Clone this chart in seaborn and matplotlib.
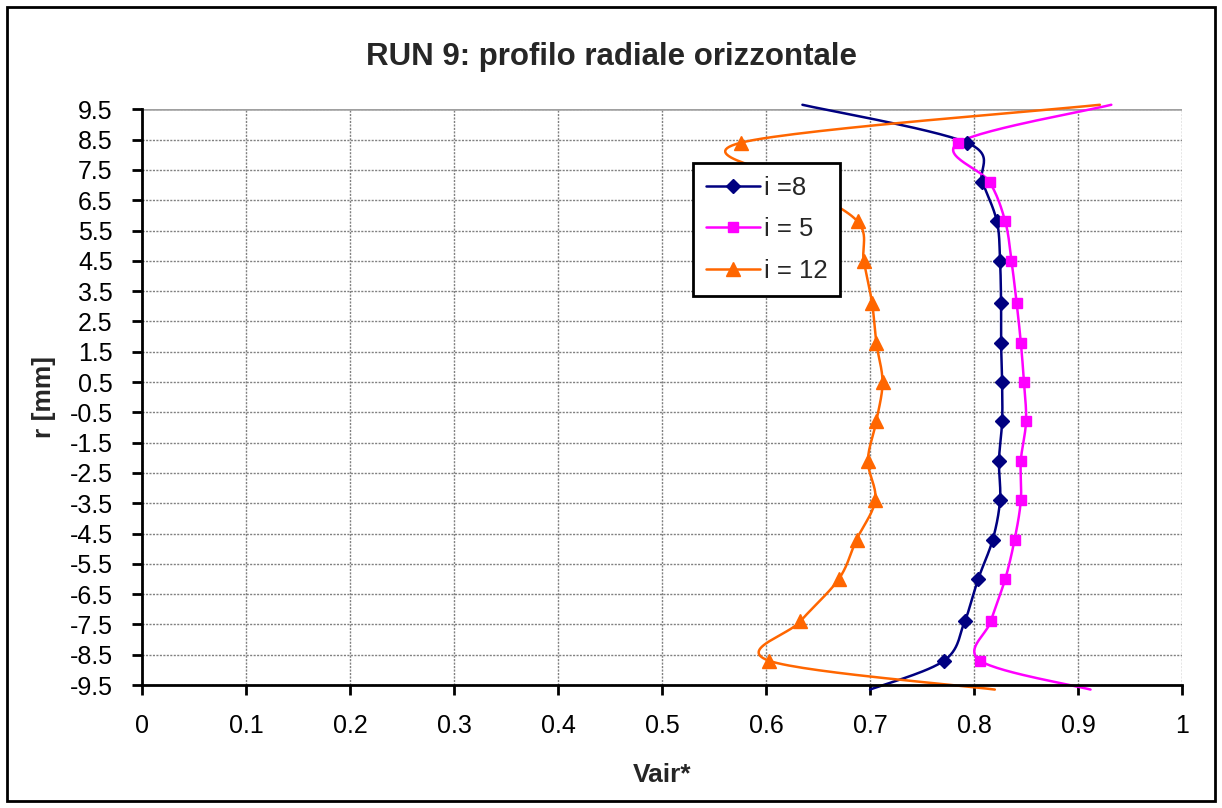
import numpy as np
import pandas as pd
import matplotlib
matplotlib.use("Agg")
import matplotlib.pyplot as plt
from matplotlib.lines import Line2D
from matplotlib.patches import Rectangle
import seaborn as sns

# ---- data ----
r_points = [8.4, 7.1, 5.8, 4.5, 3.1, 1.8, 0.5, -0.8, -2.1, -3.4, -4.7, -6.0, -7.4, -8.7]
r_wall_top = 9.65
r_wall_bottom = -9.65

v_i8 = [0.793, 0.808, 0.822, 0.825, 0.826, 0.826, 0.827, 0.827, 0.824, 0.825, 0.818, 0.804, 0.791, 0.771]
v_i8_wall = [0.635, 0.700]   # top, bottom

v_i5 = [0.785, 0.815, 0.830, 0.836, 0.841, 0.845, 0.848, 0.850, 0.845, 0.845, 0.839, 0.830, 0.816, 0.806]
v_i5_wall = [0.932, 0.912]

v_i12 = [0.576, 0.628, 0.688, 0.694, 0.702, 0.706, 0.712, 0.706, 0.698, 0.705, 0.687, 0.670, 0.633, 0.603]
v_i12_wall = [0.921, 0.820]

series_labels = ["i =8", "i = 5", "i = 12"]
x_ticks = [0, 0.1, 0.2, 0.3, 0.4, 0.5, 0.6, 0.7, 0.8, 0.9, 1]
x_tick_labels = ["0", "0.1", "0.2", "0.3", "0.4", "0.5", "0.6", "0.7", "0.8", "0.9", "1"]
y_ticks = [9.5, 8.5, 7.5, 6.5, 5.5, 4.5, 3.5, 2.5, 1.5, 0.5, -0.5, -1.5, -2.5, -3.5,
           -4.5, -5.5, -6.5, -7.5, -8.5, -9.5]
y_tick_labels = ["9.5", "8.5", "7.5", "6.5", "5.5", "4.5", "3.5", "2.5", "1.5", "0.5",
                 "-0.5", "-1.5", "-2.5", "-3.5", "-4.5", "-5.5", "-6.5", "-7.5", "-8.5", "-9.5"]

colors = ["#000080", "#FF00FF", "#FF6600"]
markers = ["D", "s", "^"]
msizes = [7.5, 7.5, 10]

sns.set_theme(style="white")
plt.rcParams["font.family"] = ["Liberation Sans", "DejaVu Sans"]


def smooth_path(xs, ys, n=30):
    """Excel-like smoothed line (Catmull-Rom Bezier) through the given points."""
    xs = np.asarray(xs, float)
    ys = np.asarray(ys, float)
    P = np.column_stack([xs, ys])
    m = len(P)
    out = []
    t = np.linspace(0, 1, n)
    for i in range(m - 1):
        p0 = P[i - 1] if i > 0 else P[i]
        p1 = P[i]
        p2 = P[i + 1]
        p3 = P[i + 2] if i + 2 < m else P[i + 1]
        c1 = p1 + (p2 - p0) / 6.0
        c2 = p2 - (p3 - p1) / 6.0
        seg = ((1 - t) ** 3)[:, None] * p1 + (3 * (1 - t) ** 2 * t)[:, None] * c1 \
            + (3 * (1 - t) * t ** 2)[:, None] * c2 + (t ** 3)[:, None] * p2
        if i > 0:
            seg = seg[1:]
        out.append(seg)
    out = np.vstack(out)
    return out[:, 0], out[:, 1]


fig = plt.figure(figsize=(12.22, 8.08), dpi=100)
ax = fig.add_axes([0.1162, 0.1522, 0.9673 - 0.1162, 0.8647 - 0.1522])

all_vals = [(v_i8, v_i8_wall), (v_i5, v_i5_wall), (v_i12, v_i12_wall)]
for k, (vals, wall) in enumerate(all_vals):
    xs = [wall[0]] + list(vals) + [wall[1]]
    ys = [r_wall_top] + list(r_points) + [r_wall_bottom]
    sx, sy = smooth_path(xs, ys)
    df = pd.DataFrame({"x": sx, "y": sy})
    sns.lineplot(data=df, x="x", y="y", sort=False, estimator=None, color=colors[k],
                 lw=1.8, ax=ax, legend=False, clip_on=False, zorder=3)
    dfm = pd.DataFrame({"x": vals, "y": r_points})
    ax.plot(dfm["x"], dfm["y"], ls="none", marker=markers[k], ms=msizes[k],
            color=colors[k], mec=colors[k], zorder=4, clip_on=False)

ax.set_xlim(0, 1)
ax.set_ylim(-9.5, 9.5)
ax.set_xticks(x_ticks)
ax.set_xticklabels(x_tick_labels)
ax.set_yticks(y_ticks)
ax.set_yticklabels(y_tick_labels)
ax.grid(True, color="#808080", ls=(0, (1.5, 1.0)), lw=1.0, zorder=1)
ax.set_axisbelow(True)
ax.axhline(9.5, color="#a0a0a0", lw=1.8, zorder=1.5)

for side in ["top", "right"]:
    ax.spines[side].set_visible(False)
for side in ["left", "bottom"]:
    ax.spines[side].set_color("black")
    ax.spines[side].set_linewidth(2)
    ax.spines[side].set_zorder(5)

ax.tick_params(axis="both", which="major", direction="out", length=7, width=2,
               color="black", labelsize=18, labelcolor="black",
               left=True, bottom=True)
ax.tick_params(axis="y", pad=14)
ax.tick_params(axis="x", pad=14)

ax.set_xlabel("Vair*", fontsize=19, fontweight="bold", labelpad=18)
ax.set_ylabel("r [mm]", fontsize=19, fontweight="bold", labelpad=10)
fig.text(0.5, 0.929, "RUN 9: profilo radiale orizzontale", ha="center", va="center",
         fontsize=22.5, fontweight="bold")

handles = [Line2D([0], [0], color=colors[k], lw=1.8, marker=markers[k], ms=msizes[k],
                  mec=colors[k]) for k in range(3)]
leg = ax.legend(handles, series_labels, loc="upper left", bbox_to_anchor=(0.530, 0.907),
                borderaxespad=0, fontsize=18.5, frameon=True, fancybox=False,
                handlelength=2.1, handletextpad=0.15, labelspacing=0.68,
                borderpad=0.5)
leg.get_frame().set_edgecolor("black")
leg.get_frame().set_linewidth(2)
leg.get_frame().set_facecolor("white")
leg.get_frame().set_alpha(1)
leg.set_zorder(6)

fig.patches.append(Rectangle((0.006, 0.009), 0.988, 0.982, transform=fig.transFigure,
                             fill=False, edgecolor="black", lw=2))

fig.savefig("out.png", dpi=100, facecolor="white")
